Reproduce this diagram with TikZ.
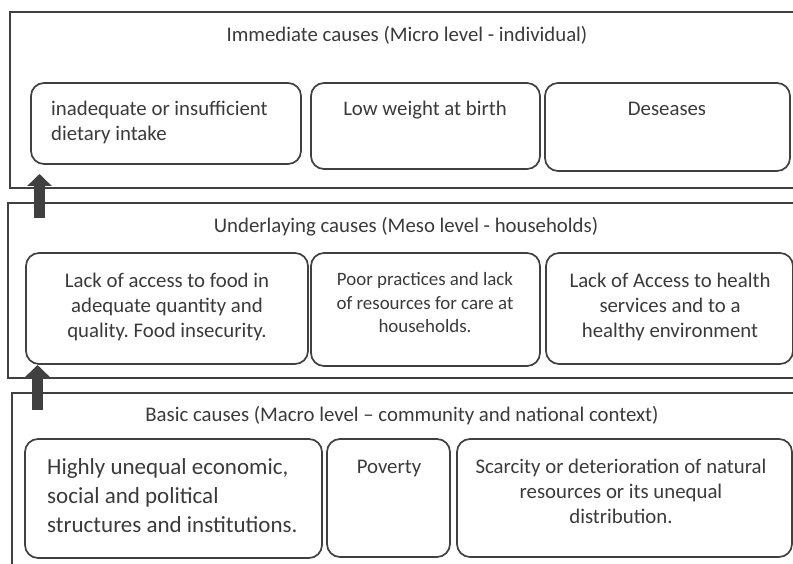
\documentclass[tikz,border=0pt]{standalone}
\usepackage{fontspec}
\setmainfont{Carlito}
\usetikzlibrary{arrows.meta}
\frenchspacing
\definecolor{ink}{HTML}{404040}
\definecolor{txtc}{HTML}{3A3A3A}
\tikzset{
  obox/.style={draw=ink, line width=2pt, rectangle, inner sep=0pt, outer sep=0pt, anchor=north west},
  ibox/.style={draw=ink, line width=1.7pt, rectangle, rounded corners=13pt, inner sep=0pt, outer sep=0pt, anchor=north west},
  ttl/.style={text=txtc, inner sep=0pt, anchor=base, font=\fontsize{20.8}{25}\selectfont},
  txt/.style={text=txtc, inner sep=0pt, anchor=base, align=center, font=\fontsize{20.8}{25}\selectfont},
  txtl/.style={txt, align=left, anchor=base west},
  txts/.style={txt, font=\fontsize{18.9}{23.5}\selectfont},
  txtb/.style={txtl, font=\fontsize{23}{29}\selectfont},
  uparrow/.style={draw=ink, line width=11pt, -{Triangle[width=24pt,length=12pt]}}
}
\begin{document}
\begin{tikzpicture}[x=1pt,y=-1pt]
\useasboundingbox (0,0) rectangle (793,564);
\clip (0,0) rectangle (793,564);
% outer level boxes
\node[obox, minimum width=800pt, minimum height=176pt] (L1) at (10,12) {};
\node[obox, minimum width=800pt, minimum height=175pt] (L2) at (8,203) {};
\node[obox, minimum width=800pt, minimum height=200pt] (L3) at (12,393) {};
% titles
\node[ttl] (T1) at (407,42) {Immediate causes (Micro level - individual)};
\node[ttl] (T2) at (406,233) {Underlaying causes (Meso level - households)};
\node[ttl] (T3) at (402,421.5) {Basic causes (Macro level – community and national context)};
% row 1
\node[ibox, minimum width=270pt, minimum height=81pt] (A1) at (31,83) {};
\node[ibox, minimum width=229pt, minimum height=86pt] (A2) at (311,83) {};
\node[ibox, minimum width=245pt, minimum height=88pt] (A3) at (545,83) {};
\node[txtl] (A1t) at (51,140.5) {inadequate or insufficient\\dietary intake};
\node[txt] (A2t) at (425,115.5) {Low weight at birth};
\node[txt] (A3t) at (667,115.5) {Deseases};
% row 2
\node[ibox, minimum width=282pt, minimum height=111pt] (B1) at (26,253) {};
\node[ibox, minimum width=229pt, minimum height=113pt] (B2) at (311,253) {};
\node[ibox, minimum width=247pt, minimum height=111pt] (B3) at (546,253) {};
\node[txt] (B1t) at (167,337.5) {Lack of access to food in\\adequate quantity and\\quality. Food insecurity.};
\node[txts] (B2t) at (425,332.5) {Poor practices and lack\\of resources for care at\\households.};
\node[txt] (B3t) at (670,337.5) {Lack of Access to health\\services and to a\\healthy environment};
% row 3
\node[ibox, minimum width=297pt, minimum height=119pt] (C1) at (25,439) {};
\node[ibox, minimum width=123pt, minimum height=118pt] (C2) at (327,439) {};
\node[ibox, minimum width=335pt, minimum height=118pt] (C3) at (457,439) {};
\node[txtb] (C1t) at (47,532) {Highly unequal economic,\\social and political\\structures and institutions.};
\node[txt] (C2t) at (389,473) {Poverty};
\node[txt] (C3t) at (621,523) {Scarcity or deterioration of natural\\resources or its unequal\\distribution.};
% arrows
\coordinate (a1s) at (39.5,218);
\coordinate (a1e) at (39.5,174);
\coordinate (a2s) at (37.5,410);
\coordinate (a2e) at (37.5,365);
\draw[uparrow] (a1s) -- (a1e);
\draw[uparrow] (a2s) -- (a2e);
\end{tikzpicture}
\end{document}
